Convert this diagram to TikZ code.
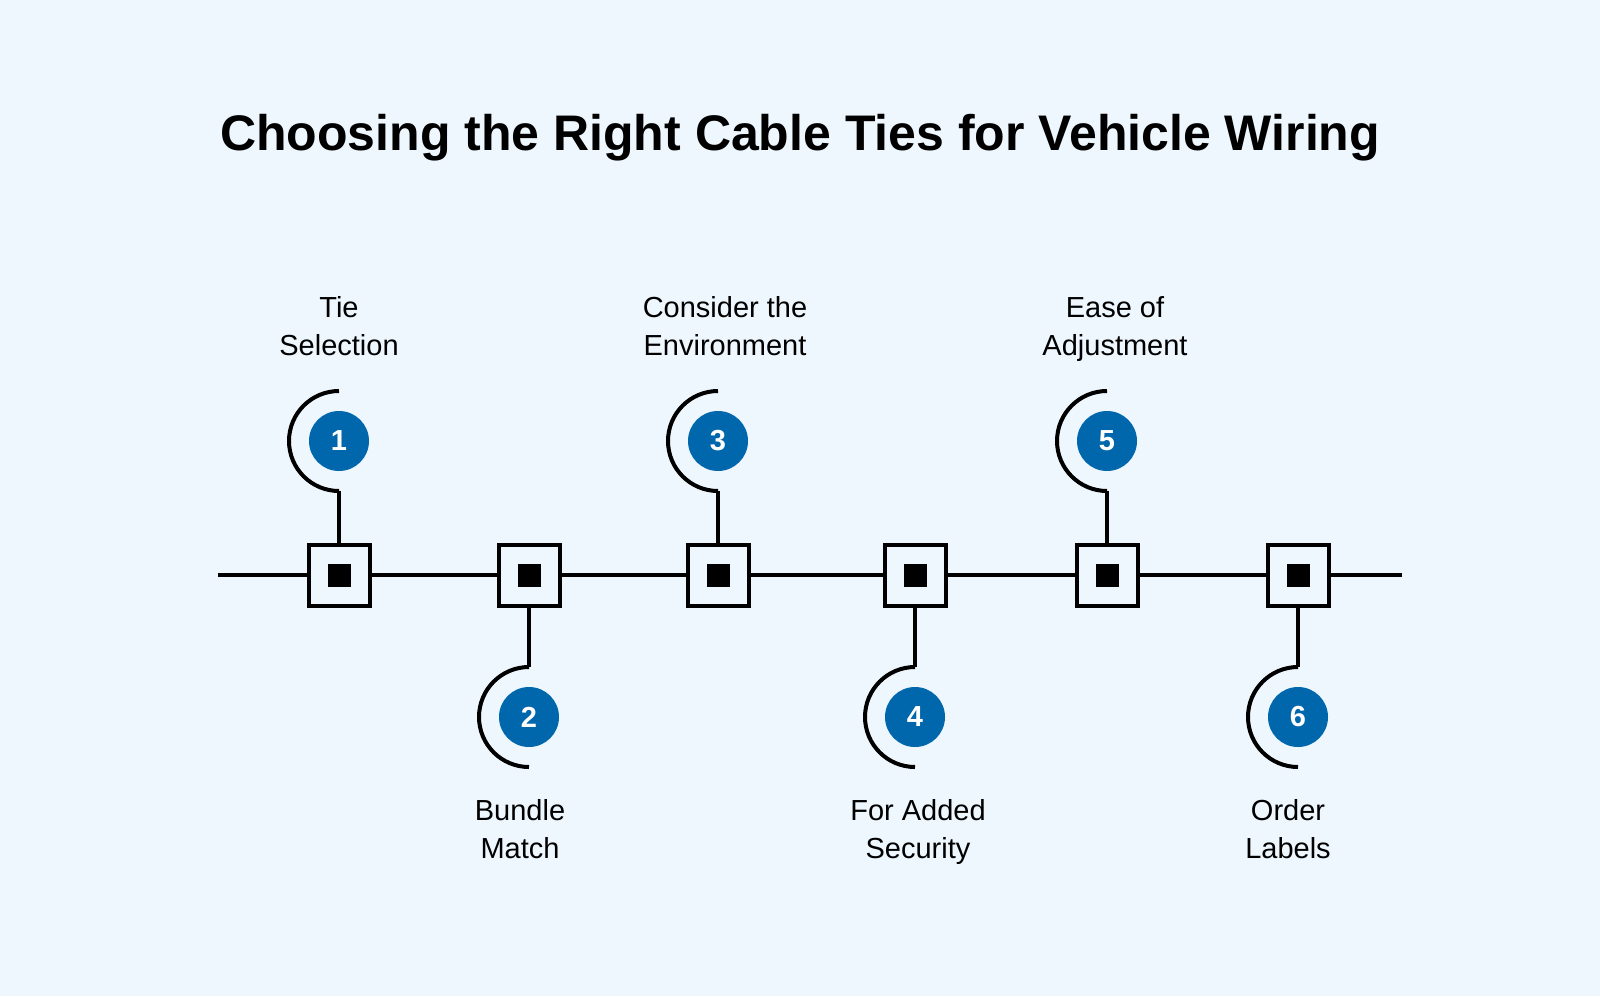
\documentclass[tikz,border=0pt]{standalone}
\usepackage{fontspec}
\setmainfont{Liberation Sans}
\definecolor{bgblue}{HTML}{EEF7FE}
\definecolor{numblue}{HTML}{0067AC}
\tikzset{
  tie/.style = {draw=black, line width=4pt, fill=bgblue, minimum size=61pt, inner sep=0pt},
  core/.style = {fill=black, minimum size=23pt, inner sep=0pt},
  num/.style = {circle, fill=numblue, minimum size=60pt, inner sep=0pt, text=white, font=\fontsize{29}{30}\selectfont\bfseries},
  lbl/.style = {align=center, anchor=north, inner sep=0pt, font=\fontsize{29}{38}\selectfont},
  wire/.style = {line width=4pt}
}
\begin{document}
\begin{tikzpicture}[x=1pt, y=-1pt]
            \fill [bgblue] (0,0) rectangle (1600,996);
            \useasboundingbox (0,0) rectangle (1600,996);
            \node [font=\fontsize{50}{56}\selectfont\bfseries] at (800,138) (title) {Choosing the Right Cable Ties for Vehicle Wiring};

            \coordinate (left) at (218,575);
            \coordinate (right) at (1402,575);
            \draw [wire] (left) -- (right);

            \node [tie] at (339,575) (t1) {};
            \node [tie] at (529,575) (t2) {};
            \node [tie] at (718,575) (t3) {};
            \node [tie] at (915,575) (t4) {};
            \node [tie] at (1107,575) (t5) {};
            \node [tie] at (1298,575) (t6) {};
            \foreach \i in {1,...,6}
              \node [core] at (t\i) {};

            \node [num] at (339,441) (n1) {1};
            \node [num] at (529,717) (n2) {2};
            \node [num] at (718,441) (n3) {3};
            \node [num] at (915,717) (n4) {4};
            \node [num] at (1107,441) (n5) {5};
            \node [num] at (1298,717) (n6) {6};

            % hooks above the line
            \foreach \i in {1,3,5} {
              \coordinate (a\i) at ([yshift=50pt]n\i.center);
              \coordinate (b\i) at ([yshift=-50pt]n\i.center);
              \draw [wire] (a\i) arc[start angle=90, end angle=270, radius=50pt];
              \draw [wire] (b\i) -- (t\i.north);
            }
            % hooks below the line
            \foreach \i in {2,4,6} {
              \coordinate (a\i) at ([yshift=50pt]n\i.center);
              \draw [wire] (a\i) arc[start angle=90, end angle=270, radius=50pt];
              \draw [wire] (t\i.south) -- (a\i);
            }

            \node [lbl] at (339,296) (l1) {Tie\\Selection};
            \node [lbl] at (725,296) (l3) {Consider the\\Environment};
            \node [lbl] at (1115,296) (l5) {Ease of\\Adjustment};
            \node [lbl] at (520,799) (l2) {Bundle\\Match};
            \node [lbl] at (918,799) (l4) {For Added\\Security};
            \node [lbl] at (1288,799) (l6) {Order\\Labels};
\end{tikzpicture}
\end{document}
